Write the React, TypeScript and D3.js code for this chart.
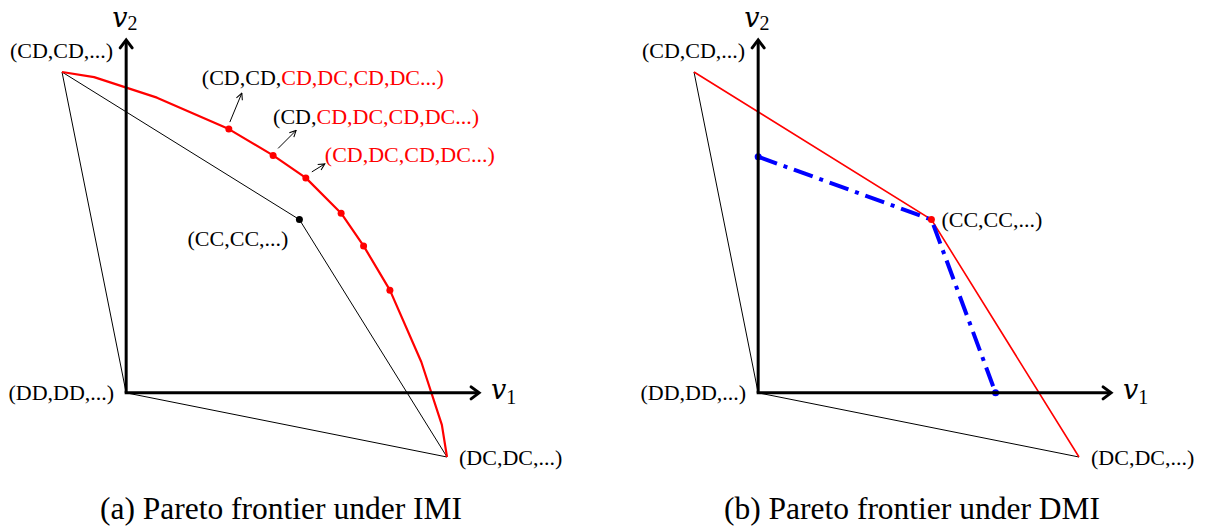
import React from "react";
import { scaleLinear, line } from "d3";

const svgWidth = 1208;
const svgHeight = 529;
const fontFamily = "'Liberation Serif', 'Times New Roman', serif";
const mathFont = "'DejaVu Serif', 'Liberation Serif', serif";
const labelSize = 22;
const red = "#ff0000";
const blue = "#0000ff";

// stage-game payoffs (v1, v2) of the pure outcomes
const outcomeLabels = ["(CD,CD,...)", "(DD,DD,...)", "(DC,DC,...)"];
const outcomeV1 = [-1, 0, 5];
const outcomeV2 = [5, 0, -1];
const ccLabel = "(CC,CC,...)";
const ccPayoff = [2.7, 2.7];

// Pareto frontier under IMI
const imiV1 = [-1, -0.5, 0.48, 1.6, 2.29, 2.8, 3.35, 3.7, 4.11, 4.6, 4.92, 5];
const imiV2 = [5, 4.92, 4.6, 4.11, 3.7, 3.35, 2.8, 2.29, 1.6, 0.48, -0.5, -1];
const imiDots = [3, 4, 5, 6, 7, 8];

// annotated strategies on the IMI frontier
const noteBlack = ["(CD,CD,", "(CD,", ""];
const noteRed = ["CD,DC,CD,DC...)", "CD,DC,CD,DC...)", "(CD,DC,CD,DC...)"];
const notePoint = [3, 4, 5];

// Pareto frontier under DMI
const dmiV1 = [0, 2.7, 3.7];
const dmiV2 = [3.68, 2.7, 0];

const axisMax = 5.5;
const captions = ["(a) Pareto frontier under IMI", "(b) Pareto frontier under DMI"];
const captionCenter = [281, 912];

// layout of the annotation arrows/text relative to their point
const noteLayout = [
  { a: [1, -7], b: [13, -36], t: [-27, -44] },
  { a: [5, -7], b: [23, -25], t: [0, -31] },
  { a: [6, -6], b: [19, -14], t: [19, -16] },
];

function AxisArrow({ x, y, dir }) {
  const d =
    dir === "up"
      ? `M${x - 6},${y + 8} L${x},${y} L${x + 6},${y + 8}`
      : `M${x - 8},${y - 6} L${x},${y} L${x - 8},${y + 6}`;
  return (
    <path d={d} fill="none" stroke="#000" strokeWidth={3} strokeLinecap="round" strokeLinejoin="miter" />
  );
}

function Panel({ left, children, panelIndex }) {
  const xScale = scaleLinear().domain([-1, 5]).range([left, left + 385]);
  const yScale = scaleLinear().domain([-1, 5]).range([457, 72]);
  const x0 = xScale(0);
  const y0 = yScale(0);
  const pts = outcomeV1.map((v, i) => [xScale(v), yScale(outcomeV2[i])]);
  const xEnd = xScale(axisMax);
  const yEnd = yScale(axisMax);
  return (
    <g>
      {/* hull of pure outcomes */}
      <line x1={pts[0][0]} y1={pts[0][1]} x2={pts[1][0]} y2={pts[1][1]} stroke="#000" strokeWidth={1} />
      <line x1={pts[1][0]} y1={pts[1][1]} x2={pts[2][0]} y2={pts[2][1]} stroke="#000" strokeWidth={1} />
      {children(xScale, yScale)}
      {/* axes */}
      <line x1={x0} y1={y0} x2={x0} y2={yEnd + 1} stroke="#000" strokeWidth={3} />
      <line x1={x0 - 1.5} y1={y0} x2={xEnd - 1} y2={y0} stroke="#000" strokeWidth={3} />
      <AxisArrow x={x0} y={yEnd} dir="up" />
      <AxisArrow x={xEnd} y={y0} dir="right" />
      <text x={x0 - 14} y={27} fontSize={27} fontStyle="italic" fontFamily={mathFont}>
        v<tspan fontStyle="normal" fontFamily={fontFamily} fontSize={20} dy={3}>2</tspan>
      </text>
      <text x={xEnd + 12} y={399} fontSize={27} fontStyle="italic" fontFamily={mathFont}>
        v<tspan fontStyle="normal" fontFamily={fontFamily} fontSize={20} dy={5}>1</tspan>
      </text>
      {/* outcome labels */}
      <text x={x0 - 13} y={58} textAnchor="end" fontSize={labelSize} fontFamily={fontFamily}>
        {outcomeLabels[0]}
      </text>
      <text x={x0 - 12} y={400} textAnchor="end" fontSize={labelSize} fontFamily={fontFamily}>
        {outcomeLabels[1]}
      </text>
      <text x={pts[2][0] + 12} y={465} fontSize={labelSize} fontFamily={fontFamily}>
        {outcomeLabels[2]}
      </text>
      <text x={captionCenter[panelIndex]} y={519} textAnchor="middle" fontSize={31.5} fontFamily={fontFamily}>
        {captions[panelIndex]}
      </text>
    </g>
  );
}

export default function App() {
  const pathGen = line();
  return (
    <svg
      width={svgWidth}
      height={svgHeight}
      viewBox={`0 0 ${svgWidth} ${svgHeight}`}
      style={{ position: "absolute", left: 0, top: 0, background: "#fff" }}
    >
      <defs>
        <marker
          id="note-arrow"
          viewBox="0 0 10 10"
          refX={9}
          refY={5}
          markerWidth={8}
          markerHeight={8}
          markerUnits="userSpaceOnUse"
          orient="auto"
        >
          <path d="M1,1 L9,5 L1,9" fill="none" stroke="#000" strokeWidth={1.3} />
        </marker>
      </defs>
      <Panel left={62} panelIndex={0}>
        {(xScale, yScale) => {
          const cd = [xScale(outcomeV1[0]), yScale(outcomeV2[0])];
          const dc = [xScale(outcomeV1[2]), yScale(outcomeV2[2])];
          const cc = [xScale(ccPayoff[0]), yScale(ccPayoff[1])];
          const imi = imiV1.map((v, i) => [xScale(v), yScale(imiV2[i])]);
          return (
            <g>
              <path d={pathGen([cd, cc, dc])} fill="none" stroke="#000" strokeWidth={1} />
              <circle cx={cc[0]} cy={cc[1]} r={3.5} fill="#000" />
              <text x={cc[0] - 11} y={246} textAnchor="end" fontSize={labelSize} fontFamily={fontFamily}>
                {ccLabel}
              </text>
              <path d={pathGen(imi)} fill="none" stroke={red} strokeWidth={2.2} strokeLinejoin="round" />
              {imiDots.map((i) => (
                <circle key={`imi-${i}`} cx={imi[i][0]} cy={imi[i][1]} r={3.5} fill={red} />
              ))}
              {notePoint.map((p, k) => {
                const [px, py] = imi[p];
                const lay = noteLayout[k];
                return (
                  <g key={`note-${k}`}>
                    <line
                      x1={px + lay.a[0]}
                      y1={py + lay.a[1]}
                      x2={px + lay.b[0]}
                      y2={py + lay.b[1]}
                      stroke="#000"
                      strokeWidth={1}
                      markerEnd="url(#note-arrow)"
                    />
                    <text x={px + lay.t[0]} y={py + lay.t[1]} fontSize={labelSize} fontFamily={fontFamily}>
                      {noteBlack[k] && <tspan fill="#000">{noteBlack[k]}</tspan>}
                      <tspan fill={red}>{noteRed[k]}</tspan>
                    </text>
                  </g>
                );
              })}
            </g>
          );
        }}
      </Panel>
      <Panel left={694} panelIndex={1}>
        {(xScale, yScale) => {
          const cd = [xScale(outcomeV1[0]), yScale(outcomeV2[0])];
          const dc = [xScale(outcomeV1[2]), yScale(outcomeV2[2])];
          const cc = [xScale(ccPayoff[0]), yScale(ccPayoff[1])];
          const dmi = dmiV1.map((v, i) => [xScale(v), yScale(dmiV2[i])]);
          return (
            <g>
              <path d={pathGen([cd, cc, dc])} fill="none" stroke={red} strokeWidth={1.6} />
              <path
                d={pathGen(dmi)}
                fill="none"
                stroke={blue}
                strokeWidth={4}
                strokeDasharray="20 7 4 7"
              />
              <circle cx={dmi[0][0]} cy={dmi[0][1]} r={3.5} fill={blue} />
              <circle cx={dmi[2][0]} cy={dmi[2][1]} r={3.5} fill={blue} />
              <circle cx={cc[0]} cy={cc[1]} r={3.5} fill={red} />
              <text x={cc[0] + 10} y={227} fontSize={labelSize} fontFamily={fontFamily}>
                {ccLabel}
              </text>
            </g>
          );
        }}
      </Panel>
    </svg>
  );
}
